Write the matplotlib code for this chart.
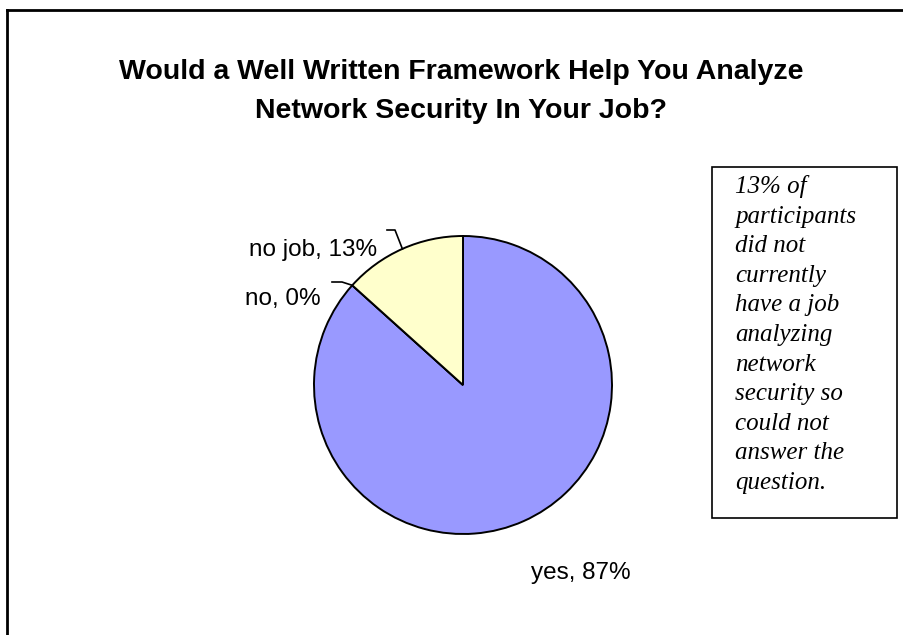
import matplotlib
matplotlib.use("Agg")
import matplotlib.pyplot as plt
from matplotlib.patches import Rectangle
from matplotlib.lines import Line2D
import numpy as np

# ---- data ----
categories = ["yes", "no", "no job"]
counts = [13, 0, 2]
colors = ["#9999FF", "#FFFFFF", "#FFFFCC"]
title_lines = ["Would a Well Written Framework Help You Analyze",
               "Network Security In Your Job?"]
note_lines = ["13% of", "participants", "did not", "currently", "have a job",
              "analyzing", "network", "security so", "could not",
              "answer the", "question."]

W, H = 904, 635
CX, CY, R = 463, 385, 149

fig = plt.figure(figsize=(W / 100, H / 100), dpi=100)
ax = fig.add_axes([0, 0, 1, 1])

def P(x, y):
    """pixel (from top-left) -> pie data coords"""
    return ((x - CX) / R, (CY - y) / R)

wedges, _ = ax.pie(counts, colors=colors, startangle=90, counterclock=False,
                   radius=1, center=(0, 0),
                   wedgeprops=dict(edgecolor="black", linewidth=1.4))
ax.set_aspect("auto")
ax.set_xlim(P(0, 0)[0], P(W, 0)[0])
ax.set_ylim(P(0, H)[1], P(0, 0)[1])
ax.axis("off")

total = sum(counts)
pcts = [round(100 * c / total) for c in counts]

lab_font = dict(family=["Liberation Sans", "DejaVu Sans"], fontsize=17.5, color="black")

# label anchors (pixel layout): text right edge / baseline, leader corner
label_layout = {
    "no job": dict(tx=377, ty=256, ha="right", leader=[(387, 230), (395, 230)]),
    "no": dict(tx=321, ty=305, ha="right", leader=[(332, 282), (342, 282)]),
    "yes": dict(tx=581, ty=579, ha="center", leader=None),
}

for w, cat, pct in zip(wedges, categories, pcts):
    lay = label_layout[cat]
    ang = np.deg2rad((w.theta1 + w.theta2) / 2)
    ex, ey = np.cos(ang), np.sin(ang)
    if lay["leader"]:
        pts = [P(*p) for p in lay["leader"]] + [(ex, ey)]
        xs, ys = zip(*pts)
        ax.add_line(Line2D(xs, ys, color="black", lw=1.2))
    ax.text(*P(lay["tx"], lay["ty"]), f"{cat}, {pct}%", ha=lay["ha"],
            va="baseline", **lab_font)

# title
for i, line in enumerate(title_lines):
    ax.text(*P(461, 79 + 39 * i), line, ha="center", va="baseline",
            family=["Liberation Sans", "DejaVu Sans"], fontsize=20.5,
            fontweight="bold")

# note box
bx0, by0, bx1, by1 = 712, 167, 897, 518
x0, y0 = P(bx0, by1)
x1, y1 = P(bx1, by0)
ax.add_patch(Rectangle((x0, y0), x1 - x0, y1 - y0, fill=False,
                       edgecolor="black", lw=1.2))
for i, line in enumerate(note_lines):
    ax.text(*P(735, 193 + 29.6 * i), line, ha="left", va="baseline",
            family=["Liberation Serif", "DejaVu Serif"], fontsize=18,
            style="italic")

# outer frame (left and top)
fx, fy = P(7, 10.5)
ax.add_line(Line2D([fx, fx], [P(0, H)[1], fy], color="black", lw=2))
ax.add_line(Line2D([fx, P(W, 0)[0]], [fy, fy], color="black", lw=2))

fig.savefig("out.png", dpi=100)
